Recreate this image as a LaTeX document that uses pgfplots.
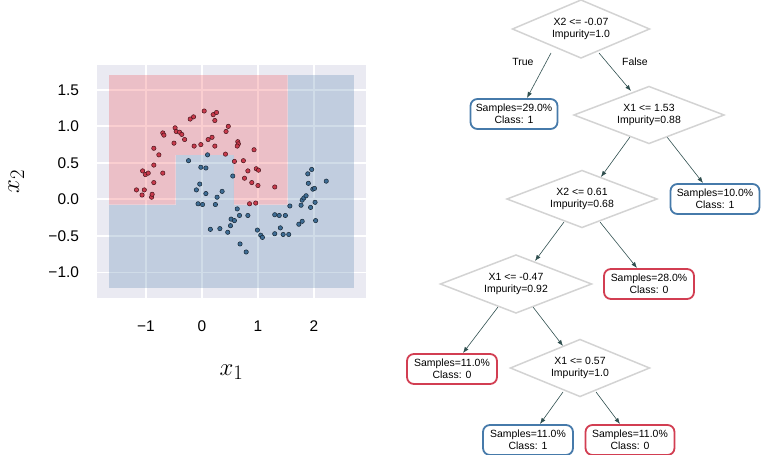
\documentclass[border=0pt]{standalone}
\usepackage{fontspec}
\setmainfont{Liberation Sans}
\usepackage{pgfplots}
\pgfplotsset{compat=1.18}
\usetikzlibrary{arrows.meta}

\definecolor{bgc}{HTML}{EAEAF2}
\definecolor{regred}{RGB}{240,94,102}
\definecolor{regblue}{RGB}{100,140,182}
\definecolor{ptred}{RGB}{200,58,76}
\definecolor{ptblue}{RGB}{62,108,148}
\definecolor{leafblue}{RGB}{70,122,170}
\definecolor{leafred}{RGB}{210,62,82}
\definecolor{dgray}{RGB}{211,211,211}
\definecolor{arrowc}{RGB}{47,79,79}

% diamond split node: cx cy w h text
\newcommand{\dia}[5]{%
  \draw[dgray, line width=1.5bp] (#1-#3/2,#2) -- (#1,#2-#4/2) -- (#1+#3/2,#2) -- (#1,#2+#4/2) -- cycle;
  \node[align=center, inner sep=0pt, font=\fontsize{10.5}{12}\selectfont] at (#1,#2) {#5};}
% leaf node: cx cy w colour text
\newcommand{\leaf}[5]{%
  \draw[#4, line width=1.8bp, rounded corners=7bp, fill=white] (#1-#3/2,#2-15) rectangle (#1+#3/2,#2+15);
  \node[align=center, inner sep=0pt, font=\fontsize{10.5}{12}\selectfont] at (#1,#2) {#5};}

\begin{document}
\begin{tikzpicture}
\path[use as bounding box] (0,0) rectangle (761bp,-455bp);

\begin{axis}[
  at={(97bp,-298bp)}, anchor=south west,
  scale only axis, width=269bp, height=233bp,
  xmin=-1.875, xmax=2.93, ymin=-1.35, ymax=1.84,
  axis background/.style={fill=bgc},
  axis line style={draw=none},
  major tick length=0pt,
  grid=major,
  major grid style={white, line width=1.8bp},
  xtick={-1,0,1,2}, xticklabels={−1,0,1,2},
  ytick={-1,-0.5,0,0.5,1,1.5}, yticklabels={−1.0,−0.5,0.0,0.5,1.0,1.5},
  ticklabel style={font=\fontsize{15.5}{17}\selectfont},
  xticklabel style={yshift=-19bp},
  yticklabel style={xshift=-14.5bp},
  xlabel={$x_1$}, ylabel={$x_2$},
  label style={font=\fontsize{30}{32}\selectfont, inner sep=0pt},
  xlabel style={at={(axis description cs:0.5,-0.318)}, anchor=center},
  ylabel style={at={(axis description cs:-0.30,0.5)}, anchor=center},
]
% decision regions
\addplot[draw=none, fill=regred, fill opacity=0.3] coordinates {(-1.66,-0.07) (-1.66,1.70) (1.53,1.70) (1.53,-0.07) (0.57,-0.07) (0.57,0.61) (-0.47,0.61) (-0.47,-0.07)} --cycle;
\addplot[draw=none, fill=regblue, fill opacity=0.3] coordinates {(-1.66,-1.21) (2.71,-1.21) (2.71,-0.07) (-1.66,-0.07)} --cycle;
\addplot[draw=none, fill=regblue, fill opacity=0.3] coordinates {(1.53,-0.07) (2.71,-0.07) (2.71,1.70) (1.53,1.70)} --cycle;
\addplot[draw=none, fill=regblue, fill opacity=0.3] coordinates {(-0.47,-0.07) (0.57,-0.07) (0.57,0.61) (-0.47,0.61)} --cycle;

% class 0
\addplot[only marks, mark=*, mark size=2.2bp, mark options={fill=ptred, draw=ptred!35!black, line width=0.5bp}] coordinates {
(-1.17,0.13) (-1.07,0.06) (-1.03,0.13) (-0.90,0.03) (-0.89,0.07)
(-1.06,0.39) (-1.01,0.34) (-0.96,0.36) (-0.86,0.23) (-0.86,0.47)
(-0.70,0.36) (-0.86,0.70) (-0.77,0.61) (-0.70,0.91) (-0.68,0.88)
(-0.50,0.77) (-0.48,0.98) (-0.46,0.93) (-0.40,0.92) (-0.36,0.89)
(-0.31,0.82) (-0.21,1.10) (-0.15,1.13) (-0.14,0.73) (-0.02,0.75)
(0.04,1.21) (0.11,0.82) (0.18,0.85) (0.20,1.16) (0.26,1.19)
(0.23,1.08) (0.23,0.73) (0.43,0.93) (0.47,1.00) (0.42,0.62)
(0.58,0.52) (0.64,0.79) (0.65,0.76) (0.63,0.73) (0.74,0.53)
(0.76,0.29) (0.82,0.39) (0.89,0.23) (0.93,0.68) (0.97,0.42)
(1.01,0.40) (1.00,0.19) (0.85,-0.06) (0.96,-0.05) (1.30,0.17)
};
% class 1
\addplot[only marks, mark=*, mark size=2.2bp, mark options={fill=ptblue, draw=ptblue!35!black, line width=0.5bp}] coordinates {
(-0.24,0.53) (-0.02,0.44) (0.07,0.43) (0.10,0.61) (-0.04,0.21)
(-0.10,0.13) (0.07,0.08) (-0.07,-0.06) (0.01,-0.07) (0.27,0.03)
(0.36,0.11) (0.24,-0.07) (0.55,0.32) (0.63,-0.13) (0.67,-0.22)
(0.52,-0.27) (0.58,-0.29) (0.51,-0.36) (0.46,-0.45) (0.32,-0.40)
(0.15,-0.41) (0.82,-0.22) (0.99,-0.42) (1.05,-0.49) (1.08,-0.52)
(0.68,-0.61) (0.79,-0.72) (1.30,-0.21) (1.38,-0.22) (1.49,-0.22)
(1.30,-0.47) (1.40,-0.39) (1.45,-0.48) (1.55,-0.48) (1.57,-0.09)
(1.73,-0.34) (1.79,-0.30) (1.77,-0.08) (1.79,-0.01) (1.82,0.02)
(1.86,0.05) (1.94,-0.11) (2.02,-0.04) (2.03,-0.29) (1.90,0.22)
(1.98,0.14) (2.01,0.15) (1.89,0.35) (1.96,0.41) (2.22,0.25)
};
\end{axis}

% decision tree
\begin{scope}[x=1bp, y=-1bp]
\tikzset{arr/.style={arrowc, line width=0.6bp, -{Latex[length=6bp,width=4.5bp]}}}
\draw[arr] (551,53) -- (527,98);
\draw[arr] (599,53) -- (631,91);
\draw[arr] (630,137) -- (601,177);
\draw[arr] (667,137) -- (703,183);
\draw[arr] (564,222) -- (535,261);
\draw[arr] (600,222) -- (637,268);
\draw[arr] (498,307) -- (463,353);
\draw[arr] (533,307) -- (563,346);
\draw[arr] (563,392) -- (540,424);
\draw[arr] (596,392) -- (620,424);

\dia{581}{29}{137}{58}{X2 <= -0.07\\Impurity=1.0}
\dia{649}{115}{150}{57}{X1 <= 1.53\\Impurity=0.88}
\dia{582}{199}{150}{57}{X2 <= 0.61\\Impurity=0.68}
\dia{516}{284}{151}{58}{X1 <= -0.47\\Impurity=0.92}
\dia{580}{368}{139}{57}{X1 <= 0.57\\Impurity=1.0}

\leaf{514}{114}{87}{leafblue}{Samples=29.0\%\\Class: 1}
\leaf{715}{199}{89}{leafblue}{Samples=10.0\%\\Class: 1}
\leaf{649}{284}{90}{leafred}{Samples=28.0\%\\Class: 0}
\leaf{452}{369}{90}{leafred}{Samples=11.0\%\\Class: 0}
\leaf{528}{440}{90}{leafblue}{Samples=11.0\%\\Class: 1}
\leaf{630}{440}{89}{leafred}{Samples=11.0\%\\Class: 0}

\node[font=\fontsize{10.5}{12}\selectfont] at (523,62) {True};
\node[font=\fontsize{10.5}{12}\selectfont] at (635,62) {False};
\end{scope}
\end{tikzpicture}
\end{document}
